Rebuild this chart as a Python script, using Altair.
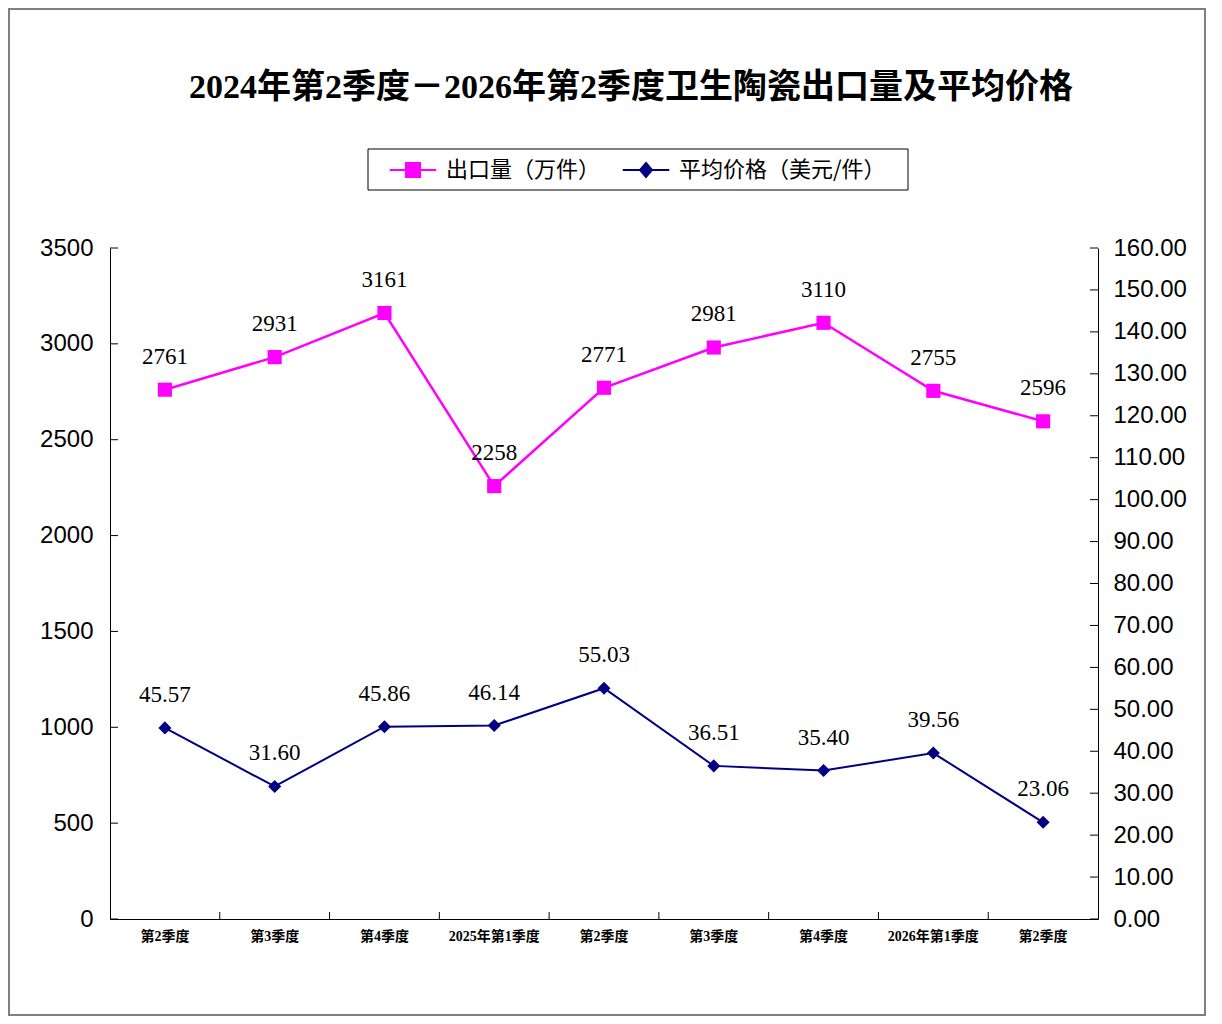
import json
import altair as alt
import pandas as pd

# ---------------- data ----------------
periods = ["第2季度", "第3季度", "第4季度", "2025年第1季度", "第2季度",
           "第3季度", "第4季度", "2026年第1季度", "第2季度"]
export_qty = [2761, 2931, 3161, 2258, 2771, 2981, 3110, 2755, 2596]
avg_price = [45.57, 31.60, 45.86, 46.14, 55.03, 36.51, 35.40, 39.56, 23.06]
series_names = ["出口量（万件）", "平均价格（美元/件）"]
left_ticks = [0, 500, 1000, 1500, 2000, 2500, 3000, 3500]
right_ticks = [0, 10, 20, 30, 40, 50, 60, 70, 80, 90, 100, 110, 120, 130, 140, 150, 160]
title_text = "2024年第2季度－2026年第2季度卫生陶瓷出口量及平均价格"

PINK = "#FF00FF"
NAVY = "#000080"
W, H = 988, 671
SERIF_CJK = "Liberation Serif, Noto Sans CJK SC"

idx = list(range(len(periods)))
qty_df = pd.DataFrame({"idx": idx, "value": export_qty})
price_df = pd.DataFrame({"idx": idx, "value": avg_price})
legend_df = pd.DataFrame({"series": series_names})

# ---------------- scales / axes ----------------
xscale = alt.Scale(type="band", domain=idx, paddingInner=0, paddingOuter=0)
xaxis = alt.Axis(
    title=None, labelExpr=f"{json.dumps(periods, ensure_ascii=False)}[datum.value]",
    ticks=False, domainColor="black", domainWidth=1, labelAngle=0,
    labelFont=SERIF_CJK, labelFontSize=14, labelFontWeight="bold",
    labelColor="black", labelPadding=10, grid=False, zindex=1,
)


def X(**kw):
    return alt.X("idx:O", scale=xscale, axis=xaxis, **kw)


qscale = alt.Scale(domain=[0, 3500], nice=False, zero=True)
qaxis = alt.Axis(
    title=None, values=left_ticks, orient="left", ticks=False, labelPadding=17,
    domainColor="black", labelFont="Liberation Sans", labelFontSize=24,
    labelColor="black", grid=False, format="d", zindex=1,
)
pscale = alt.Scale(domain=[0, 160], nice=False, zero=True)
paxis = alt.Axis(
    title=None, values=right_ticks, orient="right", ticks=False, labelPadding=15,
    domainColor="black", labelFont="Liberation Sans", labelFontSize=24,
    labelColor="black", grid=False, format=".2f", zindex=1,
)

# legend symbols: a line with a square / diamond marker
sq_path = "M-1.55,0L1.55,0M-0.47,-0.47L0.47,-0.47L0.47,0.47L-0.47,0.47Z"
dm_path = "M-1.55,0L1.55,0M0,-0.47L0.4,0L0,0.47L-0.4,0Z"

legend = alt.Legend(
    title=None, orient="none", legendX=258, legendY=-94.5, direction="horizontal",
    padding=0, symbolSize=900, symbolStrokeWidth=2, symbolOffset=29,
    labelOffset=17, columnPadding=0, labelFont="Noto Sans CJK SC",
    labelFontSize=22, labelColor="black", labelLimit=400, symbolOpacity=1,
)
legend_layer = alt.Chart(legend_df).mark_point(
    filled=True, size=900, strokeWidth=2, opacity=1
).encode(
    x=alt.value(-3000), y=alt.value(-3000),
    fill=alt.Fill("series:N", scale=alt.Scale(domain=series_names, range=[PINK, NAVY]), legend=legend),
    stroke=alt.Stroke("series:N", scale=alt.Scale(domain=series_names, range=[PINK, NAVY]), legend=legend),
    shape=alt.Shape("series:N", scale=alt.Scale(domain=series_names, range=[sq_path, dm_path]), legend=legend),
)

# ---------------- decoration ----------------
frame = alt.Chart(pd.DataFrame({"d": [0]})).mark_rect(
    fill="transparent", stroke="#7f7f7f", strokeWidth=2
).encode(x=alt.value(-101), x2=alt.value(1095), y=alt.value(-239), y2=alt.value(767))

legend_box = alt.Chart(pd.DataFrame({"d": [0]})).mark_rect(
    fill="white", stroke="black", strokeWidth=1
).encode(x=alt.value(258), x2=alt.value(798), y=alt.value(-99), y2=alt.value(-58))

title = alt.Chart(pd.DataFrame({"t": [title_text]})).mark_text(
    font=SERIF_CJK, fontSize=34, fontWeight="bold", align="center", baseline="middle",
    color="black"
).encode(text="t:N", x=alt.value(521), y=alt.value(-160))

xticks = alt.Chart(pd.DataFrame({"idx": idx[1:]})).mark_rule(color="black", strokeWidth=1).encode(
    x=X(bandPosition=0), y=alt.value(H), y2=alt.value(H - 7)
)

# ---------------- quantity layer ----------------
yq = alt.Y("value:Q", scale=qscale, axis=qaxis)
q_ticks = alt.Chart(pd.DataFrame({"value": left_ticks})).mark_rule(color="black").encode(
    y=yq, x=alt.value(0), x2=alt.value(8)
)
q_line = alt.Chart(qty_df).mark_line(strokeWidth=2.5, color=PINK).encode(
    x=X(bandPosition=0.5), y=yq
)
q_pts = alt.Chart(qty_df).mark_point(shape="square", filled=True, size=200, color=PINK, opacity=1).encode(
    x=X(bandPosition=0.5), y=yq
)
q_txt = alt.Chart(qty_df).mark_text(dy=-33, font="Liberation Serif", fontSize=23, color="black").encode(
    x=X(bandPosition=0.5), y=yq, text=alt.Text("value:Q", format="d")
)
qty_layer = alt.layer(frame, legend_box, title, legend_layer, xticks, q_ticks, q_line, q_pts, q_txt)

# ---------------- price layer ----------------
yp = alt.Y("value:Q", scale=pscale, axis=paxis)
p_ticks = alt.Chart(pd.DataFrame({"value": right_ticks})).mark_rule(color="black").encode(
    y=yp, x=alt.value(W - 8), x2=alt.value(W)
)
p_line = alt.Chart(price_df).mark_line(strokeWidth=2, color=NAVY).encode(
    x=X(bandPosition=0.5), y=yp
)
p_pts = alt.Chart(price_df).mark_point(shape="diamond", filled=True, size=170, color=NAVY, opacity=1).encode(
    x=X(bandPosition=0.5), y=yp
)
p_txt = alt.Chart(price_df).mark_text(dy=-33, font="Liberation Serif", fontSize=23, color="black").encode(
    x=X(bandPosition=0.5), y=yp, text=alt.Text("value:Q", format=".2f")
)
price_layer = alt.layer(p_ticks, p_line, p_pts, p_txt)

chart = alt.layer(qty_layer, price_layer).resolve_scale(y="independent").properties(
    width=W, height=H,
    autosize=alt.AutoSizeParams(type="none"),
    padding={"left": 102, "top": 240, "right": 116, "bottom": 97},
    background="white",
).configure_view(stroke=None)

chart.save("out.html", embed_options={"renderer": "svg", "actions": False})
